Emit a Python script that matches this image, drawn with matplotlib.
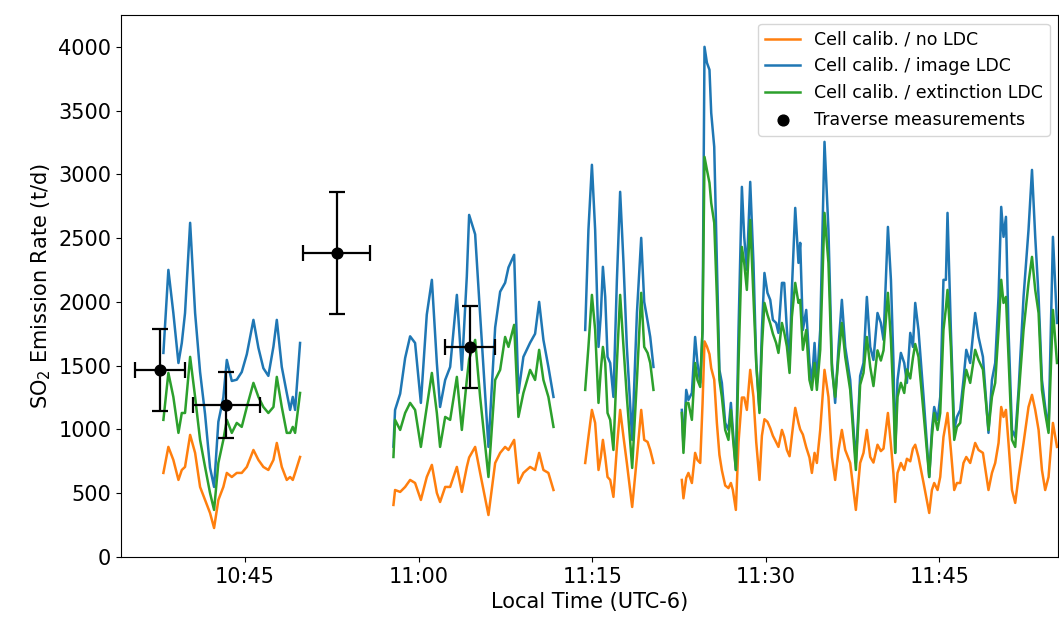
import datetime as dt
import matplotlib
matplotlib.use("Agg")
import matplotlib.pyplot as plt
import matplotlib.dates as mdates

# times are minutes after 10:00 local time, one list per continuous block
t1 = [37.94, 38.37, 38.80, 39.24, 39.53, 39.81, 40.25, 40.68, 41.11, 41.54,
      41.97, 42.32, 42.69, 43.12, 43.42, 43.85, 44.28, 44.71, 45.15, 45.72,
      46.15, 46.58, 47.01, 47.45, 47.74, 48.17, 48.60, 48.89, 49.12, 49.32,
      49.75]
t2 = [57.82, 57.96, 58.40, 58.83, 59.26, 59.69, 60.19, 60.70, 61.14, 61.57,
      61.85, 62.29, 62.72, 63.30, 63.73, 64.16, 64.36, 64.88, 65.31, 66.03,
      66.61, 67.04, 67.47, 67.76, 68.25, 68.62, 69.05, 69.63, 70.06, 70.41,
      70.78, 71.21, 71.65]
t3 = [74.39, 74.67, 74.97, 75.25, 75.54, 75.74, 75.92, 76.12, 76.32, 76.55,
      76.83, 77.13, 77.41, 77.70, 77.99, 78.45, 78.86, 79.23, 79.49, 79.78,
      80.01, 80.29]
t4 = [82.74, 82.88, 83.12, 83.31, 83.61, 83.89, 84.09, 84.33, 84.53, 84.70,
      84.91, 85.13, 85.28, 85.54, 85.77, 85.99, 86.20, 86.49, 86.77, 86.98,
      87.15, 87.41, 87.64, 87.93, 88.13, 88.36, 88.65, 88.93, 89.17, 89.45,
      89.66, 89.88, 90.14, 90.38, 90.61, 90.89, 91.09, 91.39, 91.59, 91.82,
      92.05, 92.25, 92.54, 92.82, 92.97, 93.20, 93.49, 93.77, 93.98, 94.21,
      94.41, 94.70, 95.07, 95.41, 95.71, 95.99, 96.28, 96.57, 96.86, 97.29,
      97.78, 98.15, 98.44, 98.73, 99.02, 99.30, 99.65, 99.94, 100.17, 100.55,
      100.81, 101.03, 101.18, 101.38, 101.67, 101.96, 102.19, 102.48, 102.71, 102.91,
      103.19, 103.63, 104.12, 104.35, 104.55, 104.84, 105.07, 105.35, 105.56, 105.70,
      105.99, 106.28, 106.51, 106.80, 107.08, 107.32, 107.66, 108.09, 108.38, 108.76,
      109.24, 109.54, 109.82, 110.11, 110.34, 110.54, 110.75, 110.97, 111.27, 111.55,
      111.84, 112.27, 112.70, 113.00, 113.28, 113.57, 113.86, 114.14, 114.43, 114.81,
      115.16]

# Cell calib. / no LDC
no_ldc1 = [659, 863, 761, 604, 682, 706, 957, 816, 549, 447,
           345, 227, 447, 549, 659, 627, 659, 659, 706, 839,
           761, 706, 682, 761, 894, 706, 604, 627, 604, 659,
           784]
no_ldc2 = [408, 525, 510, 549, 604, 580, 447, 627, 722, 502,
           431, 549, 549, 706, 510, 706, 780, 863, 659, 329,
           737, 816, 863, 839, 918, 580, 659, 706, 682, 816,
           682, 659, 525]
no_ldc3 = [737, 941, 1153, 1051, 682, 784, 918, 784, 627, 604,
           471, 863, 1153, 941, 737, 392, 784, 1153, 918, 902,
           839, 737]
no_ldc4 = [604, 460, 620, 659, 580, 816, 760, 737, 1200, 1690,
           1650, 1590, 1480, 1390, 1050, 800, 680, 560, 540, 580,
           525, 369, 900, 1250, 1250, 1153, 1467, 1255, 900, 604,
           950, 1080, 1060, 1010, 950, 900, 863, 996, 941, 839,
           790, 950, 1169, 1051, 1000, 960, 860, 780, 659, 816,
           737, 996, 1467, 1255, 784, 604, 839, 996, 839, 737,
           369, 737, 816, 996, 784, 740, 880, 830, 850, 1129,
           880, 650, 431, 659, 737, 682, 770, 750, 850, 880,
           784, 580, 345, 525, 580, 525, 627, 941, 1050, 1129,
           839, 525, 580, 580, 737, 784, 737, 894, 839, 816,
           525, 659, 737, 894, 1176, 1098, 1153, 894, 525, 424,
           627, 894, 1176, 1271, 1153, 996, 682, 525, 627, 1051,
           863]

# Cell calib. / image LDC
image_ldc1 = [1600, 2251, 1913, 1521, 1678, 1913, 2620, 1913, 1450, 1120,
              700, 549, 1060, 1250, 1545, 1380, 1390, 1450, 1590, 1859,
              1640, 1480, 1420, 1650, 1859, 1490, 1286, 1153, 1255, 1153,
              1678]
image_ldc2 = [865, 1153, 1280, 1560, 1730, 1678, 1208, 1900, 2173, 1521,
              1176, 1388, 1490, 2055, 1467, 2200, 2682, 2530, 1900, 863,
              1800, 2080, 2150, 2270, 2369, 1286, 1569, 1680, 1750, 2000,
              1702, 1490, 1255]
image_ldc3 = [1780, 2565, 3075, 2565, 1647, 1900, 2275, 2039, 1569, 1521,
              1255, 2173, 2863, 2306, 1647, 918, 1913, 2502, 2000, 1850,
              1725, 1490]
image_ldc4 = [1153, 863, 1310, 1231, 1286, 1725, 1521, 1365, 1780, 4000,
              3875, 3820, 3482, 3216, 2306, 1467, 1365, 1051, 996, 1208,
              996, 682, 1780, 2902, 2510, 2251, 2941, 2306, 1521, 1153,
              1780, 2227, 2071, 2016, 1859, 1835, 1757, 2149, 2149, 1780,
              1521, 2094, 2737, 2306, 2463, 1780, 1937, 1521, 1365, 1678,
              1365, 1780, 3255, 2565, 1521, 1208, 1647, 2016, 1647, 1388,
              737, 1420, 1521, 2039, 1647, 1545, 1913, 1835, 1702, 2588,
              2173, 1521, 816, 1388, 1600, 1521, 1365, 1757, 1647, 1992,
              1780, 1255, 627, 996, 1176, 1075, 1255, 2173, 2173, 2698,
              1780, 996, 1098, 1153, 1388, 1624, 1521, 1913, 1725, 1569,
              973, 1388, 1521, 2039, 2745, 2510, 2667, 1780, 996, 941,
              1310, 2039, 2565, 3035, 2510, 2039, 1388, 1176, 996, 2510,
              1835]

# Cell calib. / extinction LDC
ext_ldc1 = [1075, 1443, 1255, 973, 1129, 1129, 1569, 1255, 918, 706,
            502, 369, 737, 918, 1075, 973, 1051, 1020, 1176, 1365,
            1255, 1176, 1129, 1176, 1412, 1176, 973, 973, 1020, 973,
            1286]
ext_ldc2 = [784, 1075, 996, 1129, 1208, 1153, 863, 1176, 1443, 1129,
            863, 1098, 1075, 1412, 996, 1388, 1550, 1702, 1255, 627,
            1388, 1467, 1725, 1647, 1820, 1098, 1286, 1467, 1388, 1624,
            1388, 1255, 1020]
ext_ldc3 = [1310, 1647, 2055, 1780, 1208, 1467, 1647, 1521, 1129, 1075,
            839, 1521, 2055, 1647, 1255, 698, 1388, 2071, 1647, 1600,
            1521, 1310]
ext_ldc4 = [1129, 816, 1208, 1208, 1075, 1521, 1388, 1333, 1780, 3137,
            3035, 2933, 2776, 2620, 2039, 1388, 1255, 996, 918, 1153,
            941, 682, 1521, 2431, 2306, 2094, 2643, 2039, 1521, 1129,
            1647, 1992, 1900, 1830, 1750, 1678, 1600, 1835, 1760, 1650,
            1443, 1882, 2149, 1992, 2016, 1624, 1780, 1388, 1310, 1521,
            1310, 1624, 2698, 2306, 1467, 1255, 1569, 1835, 1569, 1310,
            682, 1350, 1443, 1725, 1490, 1340, 1620, 1540, 1620, 2071,
            1700, 1230, 816, 1255, 1365, 1286, 1470, 1400, 1560, 1670,
            1569, 1129, 627, 941, 1129, 996, 1129, 1780, 1950, 2094,
            1647, 918, 1020, 1051, 1310, 1467, 1365, 1624, 1545, 1470,
            996, 1255, 1365, 1780, 2173, 1992, 2039, 1569, 918, 863,
            1255, 1780, 2149, 2353, 2094, 1913, 1310, 1129, 973, 1937,
            1521]

# traverse measurements: time (min after 10:00), rate, x error (min), y error
trav_t = [37.65, 43.36, 52.90, 64.40]
trav_v = [1467, 1192, 2384, 1647]
trav_terr = [2.16, 2.9, 2.9, 2.16]
trav_verr = [320, 260, 475, 320]

base = dt.datetime(2021, 1, 1, 10, 0)


def to_time(mins):
    return [base + dt.timedelta(minutes=m) for m in mins]


times = [t1, t2, t3, t4]
series = [
    ([no_ldc1, no_ldc2, no_ldc3, no_ldc4], "#ff7f0e", "Cell calib. / no LDC"),
    ([image_ldc1, image_ldc2, image_ldc3, image_ldc4], "#1f77b4", "Cell calib. / image LDC"),
    ([ext_ldc1, ext_ldc2, ext_ldc3, ext_ldc4], "#2ca02c", "Cell calib. / extinction LDC"),
]

fig = plt.figure(figsize=(10.59, 6.23), dpi=100)
ax = fig.add_axes([0.1143, 0.106, 0.885, 0.870])

for blocks, col, lab in series:
    for i, (t, v) in enumerate(zip(times, blocks)):
        ax.plot(to_time(t), v, color=col, lw=1.8, label=lab if i == 0 else None)

tt = to_time(trav_t)
terr = [dt.timedelta(minutes=e) for e in trav_terr]
ax.errorbar(tt, trav_v, xerr=terr, yerr=trav_verr, fmt="none", ecolor="black",
            elinewidth=1.6, capsize=6, capthick=1.6)
ax.scatter(tt, trav_v, color="black", s=60, zorder=5, label="Traverse measurements")

ax.set_xlim(to_time([34.28])[0], to_time([115.27])[0])
ax.set_ylim(0, 4250)
ax.set_yticks(range(0, 4001, 500))
ax.xaxis.set_major_locator(mdates.MinuteLocator(byminute=[0, 15, 30, 45]))
ax.xaxis.set_major_formatter(mdates.DateFormatter("%H:%M"))
ax.tick_params(labelsize=15)

ax.set_xlabel("Local Time (UTC-6)", fontsize=15)
ax.set_ylabel("SO$_2$ Emission Rate (t/d)", fontsize=15)

ax.legend(loc="upper right", fontsize=12.5)

fig.savefig("out.png", dpi=100)
